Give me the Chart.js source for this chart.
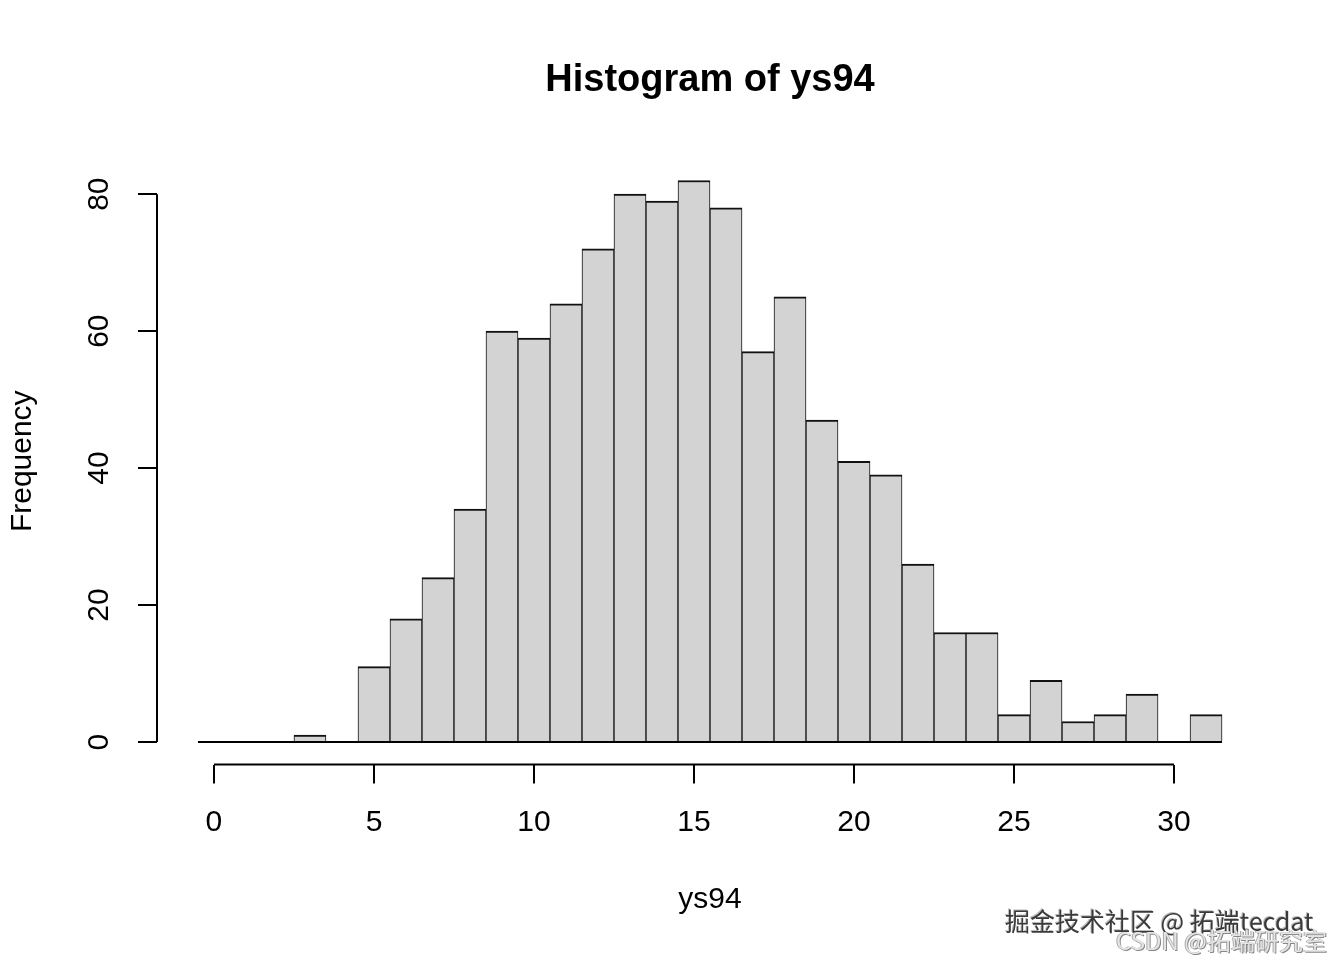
<!DOCTYPE html>
<html>
<head>
<meta charset="utf-8">
<script src="https://cdn.jsdelivr.net/npm/chart.js@4.4.1/dist/chart.umd.min.js"></script>
<style>
  body { margin: 0; background: #fff; }
  #wrap { position: relative; width: 1344px; height: 960px; }
  canvas { display: block; }
  .wm1 { position: absolute; left: 1005px; top: 902px; font: 25px "Noto Sans CJK SC", sans-serif; color: #3a3a3a; text-shadow: 1px 1px 0 #fff, -1px -1px 0 #bbb; white-space: nowrap; }
  .wm2 { position: absolute; left: 1116px; top: 922px; font: 24px "Noto Sans CJK SC", sans-serif; color: #e4e4e4; text-shadow: 1px 1px 0 #888, -1px 0 0 #aaa; white-space: nowrap; }
</style>
</head>
<body>
<div id="wrap">
  <canvas id="chart" width="1344" height="960"></canvas>
  <div class="wm1">掘金技术社区 @ 拓端tecdat</div>
  <div class="wm2">CSDN @拓端研究室</div>
</div>
<script>
// bin centres (width 1) and counts
const binCenters = [0, 1, 2, 3, 4, 5, 6, 7, 8, 9, 10, 11, 12, 13, 14, 15,
	16, 17, 18, 19, 20, 21, 22, 23, 24, 25, 26, 27, 28, 29, 30, 31];
const counts = [0, 0, 0, 1, 0, 11, 18, 24, 34, 60, 59, 64, 72, 80, 79, 82,
	78, 57, 65, 47, 41, 39, 26, 16, 16, 4, 9, 3, 4, 7, 0, 4];
const xTicks = [0, 5, 10, 15, 20, 25, 30];
const yTicks = [0, 20, 40, 60, 80];

const binWidth = 1;
const firstEdge = binCenters[0] - binWidth / 2;
const lastEdge = binCenters[binCenters.length - 1] + binWidth / 2;
const yTop = Math.max(...counts);

// R style 4% extension of the plot region
const xPad = (lastEdge - firstEdge) * 0.04;
const yPad = yTop * 0.04;

const fontFam = '"Liberation Sans", Arial, Helvetica, sans-serif';

const rAxes = {
	id: 'rAxes',
	afterDatasetsDraw(chart) {
		const ctx = chart.ctx;
		const xs = chart.scales.x, ys = chart.scales.y;
		const area = chart.chartArea;
		ctx.save();
		ctx.strokeStyle = '#000';
		ctx.lineWidth = 2;
		// zero line under the bins
		ctx.beginPath();
		ctx.moveTo(xs.getPixelForValue(firstEdge), ys.getPixelForValue(0));
		ctx.lineTo(xs.getPixelForValue(lastEdge), ys.getPixelForValue(0));
		ctx.stroke();
		// axis lines only between first and last tick
		ctx.beginPath();
		ctx.moveTo(xs.getPixelForValue(xTicks[0]), area.bottom);
		ctx.lineTo(xs.getPixelForValue(xTicks[xTicks.length - 1]), area.bottom);
		ctx.moveTo(area.left, ys.getPixelForValue(yTicks[0]));
		ctx.lineTo(area.left, ys.getPixelForValue(yTicks[yTicks.length - 1]));
		ctx.stroke();
		ctx.restore();
	}
};

const chartElem = document.getElementById('chart');

var chart = new Chart(chartElem, {
	type: 'bar',
	data: {
		datasets: [{
			label: 'ys94',
			data: binCenters.map((c, i) => ({ x: c, y: counts[i] })),
			backgroundColor: '#d3d3d3',
			borderColor: '#111',
			borderWidth: { top: 2, left: 1, right: 1, bottom: 0 },
			barPercentage: 1,
			categoryPercentage: 1
		}]
	},
	options: {
		responsive: false,
		animation: false,
		devicePixelRatio: 1,
		layout: { padding: { left: 0, right: 81, top: 0, bottom: 0 } },
		plugins: {
			legend: { display: false },
			tooltip: { enabled: false },
			title: {
				display: true,
				fullSize: false,
				text: 'Histogram of ys94',
				color: '#000',
				font: { family: fontFam, size: 38, weight: 'bold' },
				padding: { top: 58, bottom: 54.4 }
			}
		},
		scales: {
			x: {
				type: 'linear',
				offset: false,
				min: firstEdge - xPad,
				max: lastEdge + xPad,
				afterBuildTicks: s => { s.ticks = xTicks.map(v => ({ value: v })); },
				afterFit: s => { s.height = 195.5; },
				border: { display: false },
				grid: { offset: false, drawOnChartArea: false, drawTicks: true, tickLength: 19, color: '#000', lineWidth: 2 },
				ticks: { color: '#000', font: { family: fontFam, size: 30 }, padding: 21.5, maxRotation: 0 },
				title: {
					display: true,
					text: 'ys94',
					color: '#000',
					font: { family: fontFam, size: 30 },
					padding: { top: 0, bottom: 42 }
				}
			},
			y: {
				type: 'linear',
				min: -yPad,
				max: yTop + yPad,
				afterBuildTicks: s => { s.ticks = yTicks.map(v => ({ value: v })); },
				afterFit: s => { s.width = 157; },
				border: { display: false },
				grid: { drawOnChartArea: false, drawTicks: true, tickLength: 19, color: '#000', lineWidth: 2 },
				ticks: { color: '#000', font: { family: fontFam, size: 30 }, padding: 21.8,
					minRotation: 90, maxRotation: 90, crossAlign: 'center' },
				title: {
					display: true,
					text: 'Frequency',
					color: '#000',
					font: { family: fontFam, size: 30 },
					padding: { top: 5, bottom: 0 }
				}
			}
		}
	},
	plugins: [rAxes]
});
</script>
</body>
</html>
